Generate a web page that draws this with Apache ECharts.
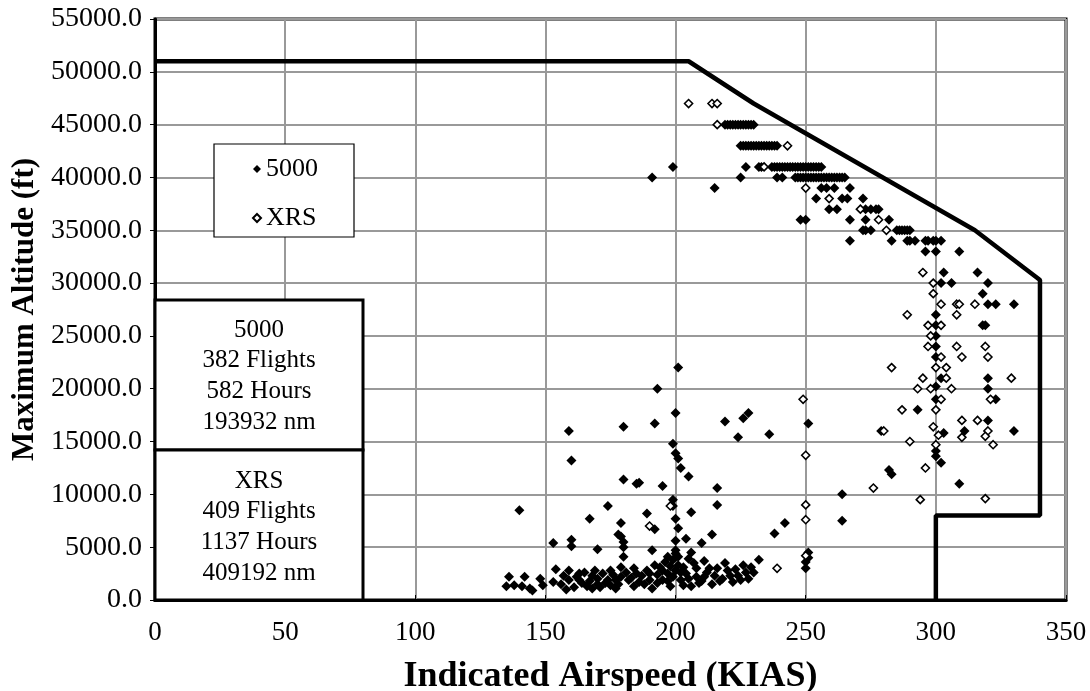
<!DOCTYPE html>
<html><head><meta charset="utf-8">
<script src="https://cdn.jsdelivr.net/npm/echarts@6/dist/echarts.min.js"></script>
<style>html,body{margin:0;padding:0;background:#fff;overflow:hidden}#c{width:1090px;height:691px}</style>
</head><body><div id="c"></div>
<script>
const xTicks = [0,50,100,150,200,250,300,350];
const yTicks = [0,5000,10000,15000,20000,25000,30000,35000,40000,45000,50000,55000];
const envelope = [[0,51000],[205,51000],[230,47000],[315,35000],[340,30300],[340,8000],[300,8000],[300,0]];
const legendNames = ['5000','XRS'];
const statsBox1 = ['5000','382 Flights','582 Hours','193932 nm'];
const statsBox2 = ['XRS','409 Flights','1137 Hours','409192 nm'];

const series5000 = [
// upper band
[191,40000],[199,41000],[215,39000],[225,40000],[227,41000],
[219,45000],[220,45000],[221,45000],[222,45000],[223,45000],[224,45000],[225,45000],[226,45000],[227,45000],[228,45000],[229,45000],[230,45000],
[225,43000],[226,43000],[227,43000],[228,43000],[229,43000],[230,43000],[231,43000],[232,43000],[233,43000],[234,43000],[235,43000],[236,43000],[237,43000],[238,43000],[239,43000],
[232,41000],[233,41000],[237,41000],[238,41000],[239,41000],[240,41000],[241,41000],[242,41000],[243,41000],[244,41000],[245,41000],[246,41000],[247,41000],[248,41000],[249,41000],[250,41000],[251,41000],[252,41000],[253,41000],[254,41000],[255,41000],[256,41000],
[239,40000],[241,40000],[246,40000],[247,40000],[248,40000],[249,40000],[250,40000],[251,40000],[252,40000],[253,40000],[254,40000],[255,40000],[256,40000],[257,40000],[258,40000],[259,40000],[260,40000],[261,40000],[262,40000],[263,40000],[264,40000],[265,40000],
[256,39000],[258,39000],[261,39000],[267,39000],
[254,38000],[264,38000],[266,38000],[272,38000],
[259,37000],[262,37000],[273,37000],[275,37000],[277,37000],[278,37000],
[248,36000],[250,36000],[267,36000],[273,36000],[282,36000],
[272,35000],[273,35000],[275,35000],[285,35000],[286,35000],[287,35000],[288,35000],[289,35000],[290,35000],
[267,34000],[283,34000],[289,34000],[290,34000],[292,34000],[296,34000],[297,34000],[299,34000],[300,34000],[302,34000],
[296,33000],[300,33000],[309,33000],
[303,31000],[316,31000],
[302,30000],[306,30000],[320,30000],
[318,29000],
[320,28000],[323,28000],[330,28000],
[300,27000],[300,26000],[318,26000],[319,26000],[300,25000],[300,24000],[300,23000],
[302,21000],[320,21000],[300,20200],[320,20000],[300,19000],[323,19000],
[293,18000],[320,17000],[279,16000],[303,15800],[311,16000],[330,16000],
[300,14100],[300,13600],[302,13000],[282,12300],[283,11900],[309,11000],[264,10000],[264,7500],
// middle
[201,22000],[193,20000],[200,17700],[192,16700],[180,16400],[159,16000],[160,13200],
[199,14800],[200,13900],[201,13400],[202,12500],[205,11700],
[219,16900],[224,15400],[226,17200],[228,17700],[236,15700],[251,16700],
[180,11400],[185,11000],[186,11100],[195,10800],[216,10600],[216,9000],
[140,8500],[167,7700],[174,8900],[179,7300],[189,8200],[192,6700],[199,9500],[199,8900],
[200,7700],[201,6800],[206,8300],[204,5800],[200,5600],[210,5400],[214,6200],
[153,5400],[160,5700],[160,5100],[170,4800],[178,6200],[179,6000],[180,5500],[180,5000],[191,4700],
// bottom cluster
[136,2200],[135,1300],[138,1400],[142,2200],[141,1300],[144,1100],[145,900],[148,2000],[149,1400],
[153,1700],[154,2900],[158,1000],[159,1900],[159,2800],[162,2200],[163,2500],[164,1600],[167,1800],
[168,1100],[169,2800],[170,2000],[171,1200],[173,1600],[175,2800],[175,1400],[177,1900],[177,1100],
[179,2200],[179,3100],[180,4100],[182,1900],[184,1300],[185,2500],[186,1700],[189,2800],[190,1900],
[191,1100],[193,2400],[194,3100],[195,1900],[197,2500],[197,4100],[198,1300],[199,3800],[200,2800],
[200,4700],[200,4400],[202,1900],[203,3100],[204,2500],[206,1300],[207,3500],[208,2200],
[210,1800],[212,2600],[214,1500],[216,3000],[218,2000],[220,2800],[222,1700],[224,2300],[226,3300],
[228,2000],[230,2600],[232,3800],[238,6300],[242,7300],[250,3600],[251,4000],[251,4500],[250,3000],
[156,1500],[157,2300],[161,1200],[163,1900],[165,2600],[166,1300],[168,2300],[170,1500],[172,2500],
[174,1900],[176,2400],[178,1500],[181,2600],[183,2100],[184,3000],[187,2300],[188,1500],[190,2500],
[192,3300],[193,1600],[195,2800],[196,3600],[197,1800],[198,3200],[199,2200],[201,3300],[201,4100],
[202,2600],[203,1400],[205,3900],[205,2000],[206,4500],[208,3000],[209,1600],[211,3700],[211,2200],
[213,3000],[215,2300],[217,1800],[219,3500],[221,2300],[223,2900],[225,1900],[227,2600],[229,3100]
];

const seriesXRS = [
[205,47000],[214,47000],[216,47000],[216,45000],[243,43000],[234,41000],
[250,39000],[259,38000],[271,37000],[278,36000],[281,35000],
[295,31000],[299,30000],[299,29000],[302,28000],[308,28000],[309,28000],[315,28000],
[289,27000],[308,27000],[297,26000],[302,26000],[298,25000],[297,24000],[308,24000],[319,24000],
[310,23000],[302,23000],[320,23000],[283,22000],[300,22000],[304,22000],
[295,21000],[304,21000],[329,21000],[293,20000],[298,20000],[306,20000],[302,19000],[321,19000],
[287,18000],[300,18000],[310,17000],[316,17000],[280,16000],[299,16400],[301,15600],[310,15400],
[320,16000],[319,15500],[322,14700],[290,15000],[300,14700],[296,12500],[276,10600],[294,9500],[319,9600],
[198,8900],[190,7000],[249,19000],[250,13700],[250,9000],[250,7600],[239,3000],[250,4200]
];

const chart = echarts.init(document.getElementById('c'));
const serif = '"Liberation Serif","Times New Roman",serif';

function boxText(lines, top) {
  return lines.map((t, i) => ({
    type: 'text', z: 101,
    style: { text: t, x: 259, y: top + i * 30.8, align: 'center', verticalAlign: 'middle',
      font: '25px ' + serif, fill: '#000' }
  }));
}

chart.setOption({
  animation: false,
  backgroundColor: '#fff',
  grid: { left: 155, right: 24, top: 19, bottom: 91, show: true, borderColor: '#000', borderWidth: 3,
    containLabel: false, outerBoundsMode: 'none' },
  legend: {
    data: legendNames, orient: 'vertical', left: 214, top: 144,
    backgroundColor: '#fff', borderColor: '#000', borderWidth: 1.2,
    padding: [12, 36, 6, 38], itemGap: 23, itemWidth: 8, itemHeight: 8,
    textStyle: { fontFamily: serif, fontSize: 26, color: '#000' }, z: 102
  },
  xAxis: {
    type: 'value', min: 0, max: 350, interval: 50,
    name: 'Indicated Airspeed (KIAS)', nameLocation: 'middle', nameGap: 59,
    nameTextStyle: { fontFamily: serif, fontSize: 36, fontWeight: 'bold', color: '#000' },
    axisLine: { show: true, lineStyle: { color: '#000', width: 3 } },
    axisTick: { show: true, inside: true, length: 5, lineStyle: { color: '#000', width: 1 } },
    axisLabel: { fontFamily: serif, fontSize: 27, color: '#000', margin: 19,
      formatter: v => xTicks.includes(v) ? String(v) : '' },
    splitLine: { show: true, lineStyle: { color: '#999', width: 2 } }
  },
  yAxis: {
    type: 'value', min: 0, max: 55000, interval: 5000,
    name: 'Maximum Altitude (ft)', nameLocation: 'middle', nameGap: 112,
    nameTextStyle: { fontFamily: serif, fontSize: 31, fontWeight: 'bold', color: '#000' },
    axisLine: { show: true, lineStyle: { color: '#000', width: 3 } },
    axisTick: { show: true, inside: false, length: 5, lineStyle: { color: '#000', width: 1 } },
    axisLabel: { fontFamily: serif, fontSize: 28, color: '#000', margin: 13,
      formatter: v => yTicks.includes(v) ? v.toFixed(1) : '' },
    splitLine: { show: true, lineStyle: { color: '#999', width: 2 } }
  },
  graphic: [
    { type: 'rect', z: 100, shape: { x: 155, y: 300, width: 208, height: 150 },
      style: { fill: '#fff', stroke: '#000', lineWidth: 3 } },
    { type: 'rect', z: 100, shape: { x: 155, y: 450, width: 208, height: 150 },
      style: { fill: '#fff', stroke: '#000', lineWidth: 3 } },
    ...boxText(statsBox1, 330),
    ...boxText(statsBox2, 481)
  ],
  series: [
    { name: 'envelope', type: 'line', data: envelope, symbol: 'none', silent: true,
      lineStyle: { color: '#000', width: 4.5 }, z: 3 },
    { name: '5000', type: 'scatter', data: series5000, symbol: 'diamond', symbolSize: 10,
      itemStyle: { color: '#000', opacity: 1 }, z: 4 },
    { name: 'XRS', type: 'scatter', data: seriesXRS, symbol: 'diamond', symbolSize: 8,
      itemStyle: { color: '#fff', borderColor: '#000', borderWidth: 1.6, opacity: 1 }, z: 5 }
  ]
});
</script></body></html>
